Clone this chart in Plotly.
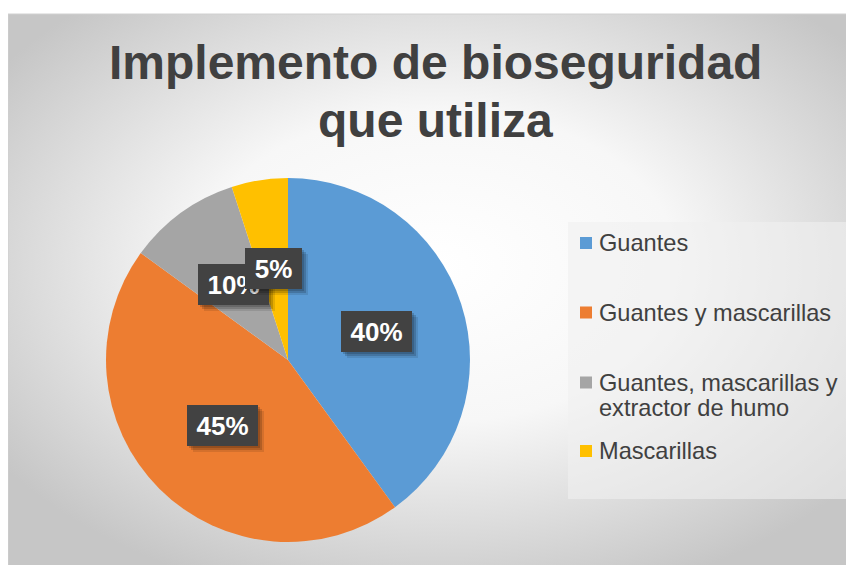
import math
import base64
import plotly.graph_objects as go

# ---- data ----
labels = ["Guantes", "Guantes y mascarillas",
          "Guantes, mascarillas y extractor de humo", "Mascarillas"]
legend_lines = [["Guantes"], ["Guantes y mascarillas"],
                ["Guantes, mascarillas y", "extractor de humo"], ["Mascarillas"]]
values = [40, 45, 10, 5]
pct_text = ["40%", "45%", "10%", "5%"]
colors = ["#5B9BD5", "#ED7D31", "#A5A5A5", "#FFC000"]
title_lines = ["Implemento de bioseguridad", "que utiliza"]

# page body has an 8px margin; work in window pixel coordinates
OFF = 8
W, H = 846, 557

def px(x):
    return (x - OFF) / W

def py(y):
    return 1 - (y - OFF) / H

# pie geometry (window pixels)
cx, cy, R = 288, 360, 182

fig = go.Figure()
fig.add_trace(go.Pie(
    labels=labels, values=values, sort=False, direction="clockwise",
    rotation=0, marker=dict(colors=colors, line=dict(width=0)),
    textinfo="none", hoverinfo="label+percent", showlegend=False,
    domain=dict(x=[px(cx - R), px(cx + R)], y=[py(cy + R), py(cy - R)]),
))

# background radial gradient (chart area)
svg = ('<svg xmlns="http://www.w3.org/2000/svg" width="860" height="560" viewBox="0 0 860 560">'
       '<defs><radialGradient id="g" cx="0.5" cy="0.45" r="0.62">'
       '<stop offset="0" stop-color="#ffffff"/><stop offset="0.45" stop-color="#f7f7f7"/>'
       '<stop offset="1" stop-color="#c6c6c6"/></radialGradient></defs>'
       '<rect width="860" height="560" fill="url(#g)"/></svg>')
src = "data:image/svg+xml;base64," + base64.b64encode(svg.encode()).decode()
fig.add_layout_image(dict(source=src, xref="paper", yref="paper",
                          x=px(8), y=py(14), sizex=(860) / W, sizey=560 / H,
                          xanchor="left", yanchor="top", sizing="stretch",
                          layer="below"))

shapes = [
    dict(type="rect", xref="paper", yref="paper", x0=px(8), x1=px(870),
         y0=py(575), y1=py(14), line=dict(color="#d0d0d0", width=1),
         fillcolor="rgba(0,0,0,0)", layer="below"),
    # legend box
    dict(type="rect", xref="paper", yref="paper", x0=px(568), x1=px(851),
         y0=py(499), y1=py(222), line=dict(width=0),
         fillcolor="rgba(240,240,240,0.6)", layer="below"),
]

annotations = []
# title
for i, t in enumerate(title_lines):
    annotations.append(dict(
        text=t, x=px(436), y=py(62 + i * 58), xref="paper", yref="paper",
        xanchor="center", yanchor="middle", showarrow=False,
        font=dict(family="Liberation Sans, Arial, sans-serif", size=48,
                  color="#404040", weight="bold")))

# data labels computed from slice angles
total = sum(values)
cum = 0
box_w = {"40%": 71, "45%": 71, "10%": 71, "5%": 57}
box_h = 41
for v, t in zip(values, pct_text):
    mid = (cum + v / 2) / total * 2 * math.pi
    cum += v
    r = 0.51 * R
    lx = cx + r * math.sin(mid)
    ly = cy - r * math.cos(mid)
    bw = box_w[t]
    # soft shadow
    for off, a in [(6, 0.10), (4, 0.16), (2, 0.16)]:
        annotations.append(dict(
            text="", x=px(lx + off), y=py(ly + off), xref="paper", yref="paper",
            xanchor="center", yanchor="middle",
            showarrow=False, width=bw, height=box_h, bgcolor=f"rgba(0,0,0,{a})",
            borderpad=0, borderwidth=0))
    annotations.append(dict(
        text=t, x=px(lx), y=py(ly), xref="paper", yref="paper",
        xanchor="center", yanchor="middle",
        showarrow=False, width=bw, height=box_h, bgcolor="#424242",
        borderpad=0, borderwidth=0,
        font=dict(family="Liberation Sans, Arial, sans-serif", size=26,
                  color="#ffffff", weight="bold")))

# manual legend
leg_y = [243, 312.5, 382.5, 451]
for c, lines, y in zip(colors, legend_lines, leg_y):
    shapes.append(dict(type="rect", xref="paper", yref="paper",
                       x0=px(580), x1=px(592), y0=py(y + 6), y1=py(y - 6),
                       fillcolor=c, line=dict(width=0)))
    for j, ln in enumerate(lines):
        annotations.append(dict(
            text=ln, x=px(597), y=py(y + j * 25), xref="paper", yref="paper",
            xanchor="left", yanchor="middle", showarrow=False,
            font=dict(family="Liberation Sans, Arial, sans-serif", size=23.6,
                      color="#404040")))

fig.update_layout(
    width=W, height=H, margin=dict(l=0, r=0, t=0, b=0),
    paper_bgcolor="#ffffff", plot_bgcolor="#ffffff",
    shapes=shapes, annotations=annotations, showlegend=False,
)

fig.write_html("out.html")
